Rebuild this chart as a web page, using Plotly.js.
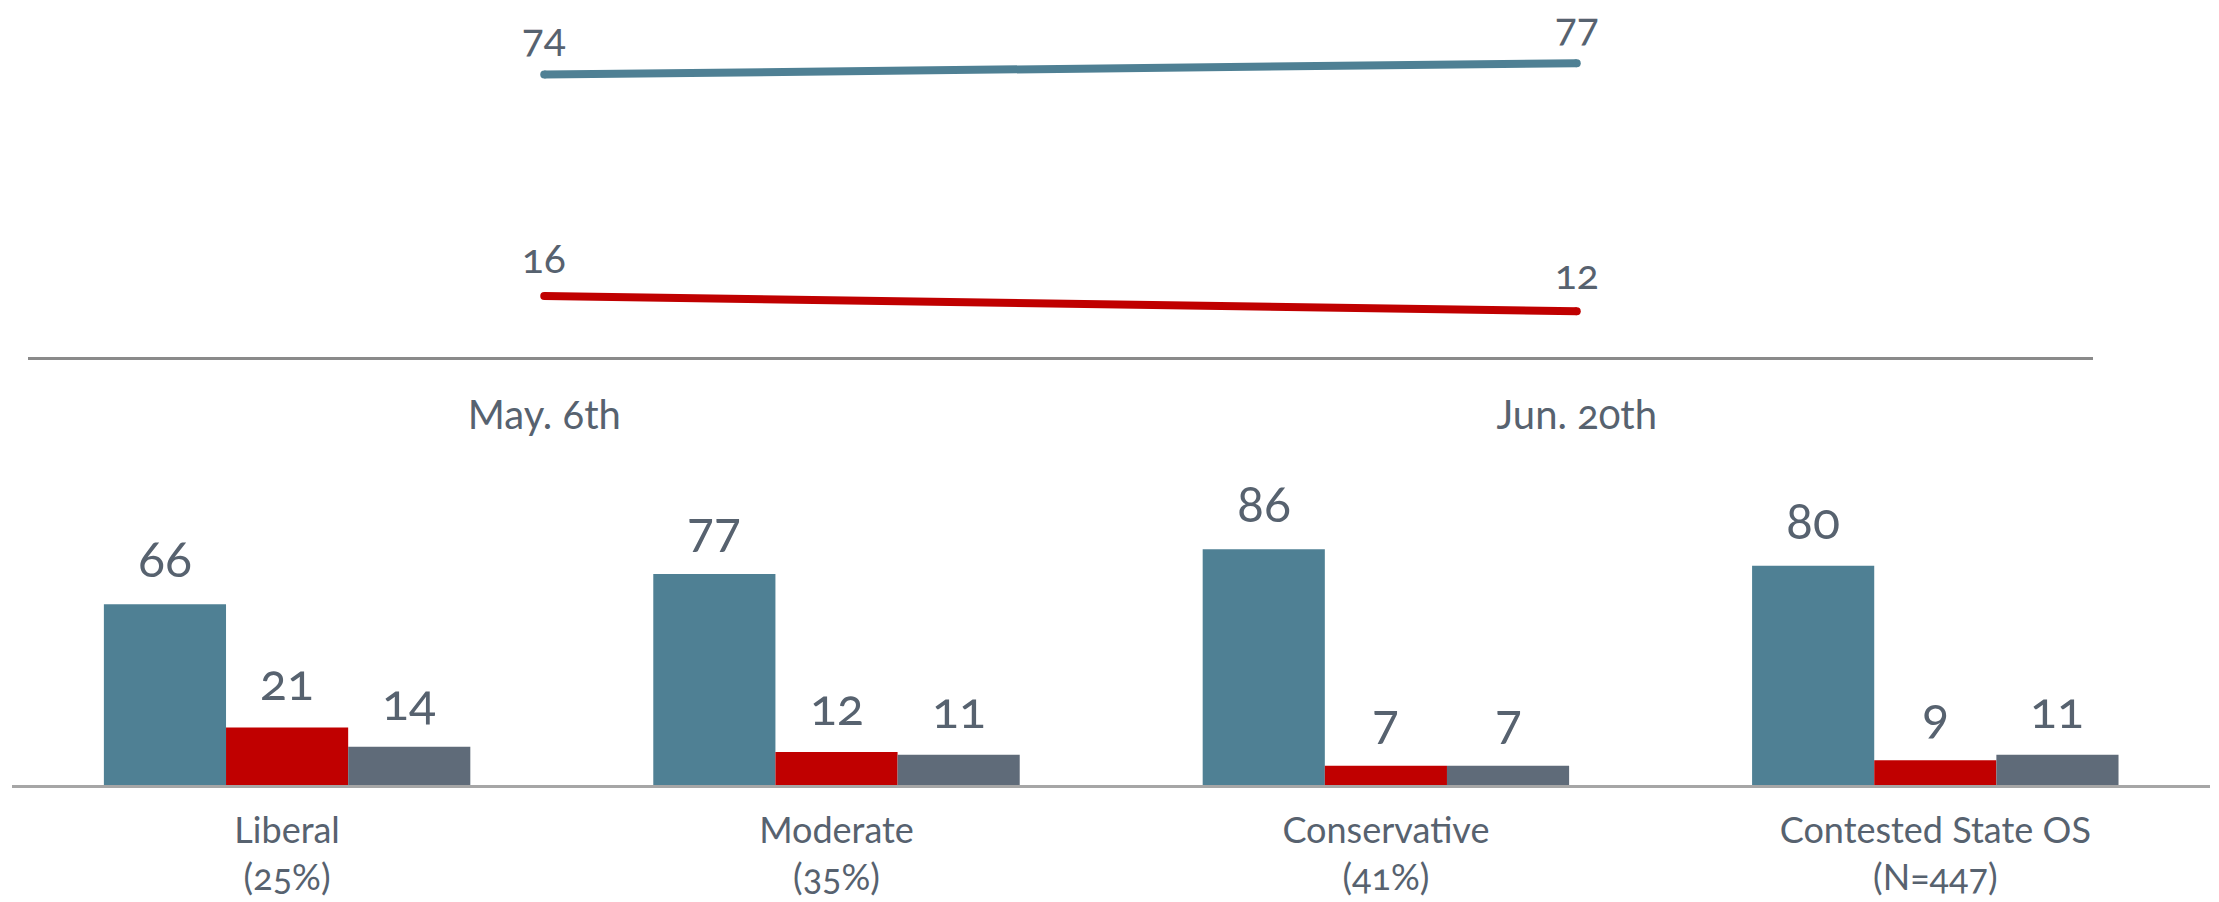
<!DOCTYPE html>
<html><head><meta charset="utf-8">
<script src="https://cdn.plot.ly/plotly-3.0.1.min.js"></script>
<style>
html,body{margin:0;padding:0;background:#fff}
#chart{width:2219px;height:902px}
.main-svg text{font-variant-numeric:oldstyle-nums;font-feature-settings:"onum" 1;}
</style></head><body><div id="chart"></div>
<script>
// ---- data ----
const dates = ["May. 6th", "Jun. 20th"];
const trendBlue = [74, 77];
const trendRed = [16, 12];

const groups = ["Liberal<br>(25%)", "Moderate<br>(35%)", "Conservative<br>(41%)", "Contested State OS<br>(N=447)"];
const barBlue = [66, 77, 86, 80];
const barRed = [21, 12, 7, 9];
const barGray = [14, 11, 7, 11];

// ---- style ----
const W = 2219, H = 902;
const BLUE = "#4f8094", RED = "#c00000", GRAY = "#5f6b79", TXT = "#57626f";
const FONT = "Lato, 'Open Sans', sans-serif";

const x1Dom = [28 / W, 2093 / W];
const y1Dom = [(H - 357) / H, 1];
const x2Dom = [12.4 / W, 2210 / W];
const y2Dom = [(H - 785) / H, (H - 430) / H];
const bargap = 0.333;

const topPxPerUnit = 3.816;
const barPxPerUnit = 2.74;

const traces = [
  {x: dates, y: trendBlue, type: "scatter", mode: "lines+markers", xaxis: "x", yaxis: "y",
   line: {color: BLUE, width: 8}, marker: {color: BLUE, size: 8}, hoverinfo: "skip", name: "Series A"},
  {x: dates, y: trendRed, type: "scatter", mode: "lines+markers", xaxis: "x", yaxis: "y",
   line: {color: RED, width: 8}, marker: {color: RED, size: 8}, hoverinfo: "skip", name: "Series B"},
  {x: groups, y: barBlue, type: "bar", xaxis: "x2", yaxis: "y2", marker: {color: BLUE}, hoverinfo: "skip", name: "A"},
  {x: groups, y: barRed, type: "bar", xaxis: "x2", yaxis: "y2", marker: {color: RED}, hoverinfo: "skip", name: "B"},
  {x: groups, y: barGray, type: "bar", xaxis: "x2", yaxis: "y2", marker: {color: GRAY}, hoverinfo: "skip", name: "C"}
];

const annotations = [];
[trendBlue, trendRed].forEach(series => {
  series.forEach((v, i) => {
    annotations.push({x: dates[i], y: v, xref: "x", yref: "y", text: String(v), showarrow: false,
      yanchor: "middle", xanchor: "center", yshift: 38, borderpad: 0,
      font: {size: 41, color: TXT, family: FONT}});
  });
});
const plotW2 = W * (x2Dom[1] - x2Dom[0]);
const barW = plotW2 / groups.length * (1 - bargap) / 3;
[barBlue, barRed, barGray].forEach((series, k) => {
  series.forEach((v, i) => {
    annotations.push({x: groups[i], y: v, xref: "x2", yref: "y2", text: String(v), showarrow: false,
      yanchor: "middle", xanchor: "center", xshift: (k - 1) * barW, yshift: 46,
      font: {size: 50, color: TXT, family: FONT}});
  });
});

const layout = {
  width: W, height: H, margin: {l: 0, r: 0, t: 0, b: 0},
  paper_bgcolor: "#ffffff", plot_bgcolor: "rgba(0,0,0,0)",
  showlegend: false, barmode: "group", bargap: bargap, bargroupgap: 0,
  font: {family: FONT, color: TXT},
  xaxis: {domain: x1Dom, anchor: "y", type: "category", range: [-0.5, 1.5], showgrid: false, zeroline: false,
    showline: true, linecolor: "#8a8a8a", linewidth: 3, ticks: "", tickfont: {size: 40, color: TXT},
    ticklabelstandoff: 21, fixedrange: true},
  yaxis: {domain: y1Dom, anchor: "x", range: [0, 357 / topPxPerUnit], visible: false, fixedrange: true},
  xaxis2: {domain: x2Dom, anchor: "y2", type: "category", range: [-0.5, 3.5], showgrid: false, zeroline: false,
    showline: true, linecolor: "#a6a6a6", linewidth: 2.5, ticks: "", tickfont: {size: 36, color: TXT},
    ticklabelstandoff: 12, fixedrange: true},
  yaxis2: {domain: y2Dom, anchor: "x2", range: [0, 355 / barPxPerUnit], visible: false, fixedrange: true},
  annotations: annotations
};

Plotly.newPlot("chart", traces, layout, {staticPlot: true, displayModeBar: false});
</script></body></html>
